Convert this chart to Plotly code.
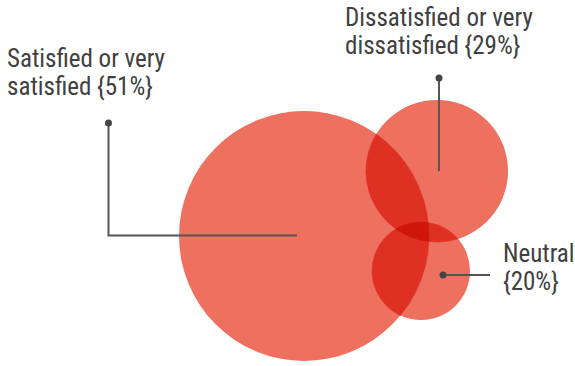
import numpy as np
import plotly.graph_objects as go

# Survey response shares
labels = ["Satisfied or very satisfied", "Dissatisfied or very dissatisfied", "Neutral"]
label_lines = [["Satisfied or very", "satisfied {51%}"],
               ["Dissatisfied or very", "dissatisfied {29%}"],
               ["Neutral", "{20%}"]]
values = [51, 29, 20]

# Layout (canvas pixel units): circle centres, leader paths, label anchors
centers = [(304, 236), (437, 171), (421, 271)]
radius_per_unit = 2.45
leaders = [
    [(108.5, 123), (108.5, 235.5), (297, 235.5)],
    [(439, 78), (439, 171)],
    [(443, 275), (490, 275)],
]
label_pos = [(7, 61), (345, 20), (503, 256)]
line_gap = 28

BASE = (238, 112, 95)
INK = "#404040"
FONT = "Liberation Sans Narrow, Roboto Condensed, DejaVu Sans Condensed, Arial Narrow, sans-serif"


def multiply(rgb, n):
    """Colour of n stacked layers blended with multiply."""
    return "rgb(%d,%d,%d)" % tuple(round(255 * (c / 255) ** n) for c in rgb)


radii = [radius_per_unit * v for v in values]
circles = [(cx, cy, r) for (cx, cy), r in zip(centers, radii)]


def overlap_polygon(idx):
    """Boundary of the region shared by the circles in idx (a convex set)."""
    pts = []
    theta = np.linspace(0, 2 * np.pi, 1440, endpoint=False)
    for i in idx:
        cx, cy, r = circles[i]
        px, py = cx + r * np.cos(theta), cy + r * np.sin(theta)
        keep = np.ones_like(px, dtype=bool)
        for j in idx:
            if j == i:
                continue
            ox, oy, orad = circles[j]
            keep &= (px - ox) ** 2 + (py - oy) ** 2 <= orad ** 2
        pts.append(np.column_stack([px[keep], py[keep]]))
    pts = np.vstack(pts)
    c = pts.mean(axis=0)
    order = np.argsort(np.arctan2(pts[:, 1] - c[1], pts[:, 0] - c[0]))
    pts = pts[order]
    return np.append(pts[:, 0], pts[0, 0]), np.append(pts[:, 1], pts[0, 1])


fig = go.Figure()

# full circles
shapes = []
for cx, cy, r in circles:
    shapes.append(dict(type="circle", xref="x", yref="y",
                       x0=cx - r, x1=cx + r, y0=cy - r, y1=cy + r,
                       fillcolor=multiply(BASE, 1), line=dict(width=0), layer="below"))

# overlapping areas, darkened as with a multiply blend
for idx in [(0, 1), (0, 2), (1, 2), (0, 1, 2)]:
    xs, ys = overlap_polygon(idx)
    col = multiply(BASE, len(idx))
    fig.add_trace(go.Scatter(x=xs, y=ys, mode="lines", fill="toself",
                             fillcolor=col, line=dict(width=0.6, color=col),
                             hoverinfo="skip", showlegend=False))

# leader lines with end dots
for path in leaders:
    xs = [p[0] for p in path]
    ys = [p[1] for p in path]
    fig.add_trace(go.Scatter(x=xs, y=ys, mode="lines",
                             line=dict(color="#555555", width=2),
                             hoverinfo="skip", showlegend=False))
    fig.add_trace(go.Scatter(x=[xs[0]], y=[ys[0]], mode="markers",
                             marker=dict(color="#444444", size=7),
                             hoverinfo="skip", showlegend=False))

# labels
for (lx, ly), lines in zip(label_pos, label_lines):
    fig.add_trace(go.Scatter(
        x=[lx] * len(lines), y=[ly + i * line_gap for i in range(len(lines))],
        mode="text", text=lines, textposition="middle right",
        textfont=dict(family=FONT, size=25, color=INK),
        cliponaxis=False, hoverinfo="skip", showlegend=False))

fig.update_layout(
    width=575, height=366,
    margin=dict(l=0, r=0, t=0, b=0),
    paper_bgcolor="white", plot_bgcolor="white",
    shapes=shapes,
    xaxis=dict(range=[0, 575], visible=False, fixedrange=True),
    yaxis=dict(range=[366, 0], visible=False, fixedrange=True),
    showlegend=False,
)

fig.write_html("out.html")
